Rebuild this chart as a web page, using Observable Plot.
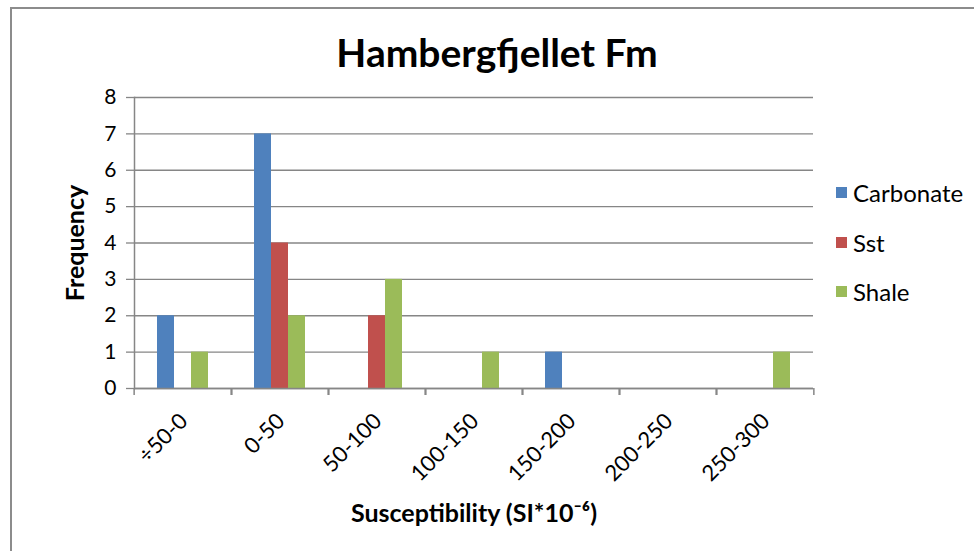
<!DOCTYPE html>
<html><head><meta charset="utf-8">
<script src="https://cdn.jsdelivr.net/npm/d3@7"></script>
<script src="https://cdn.jsdelivr.net/npm/@observablehq/plot@0.6"></script>
<style>
body{margin:0;background:#fff;}
#wrap{position:relative;width:974px;height:551px;overflow:hidden;font-family:Lato,sans-serif;color:#000;}
#border{position:absolute;left:10px;top:7px;width:1000px;height:600px;border-left:2px solid #8c8c8c;border-top:2px solid #8c8c8c;}
#chart{position:absolute;left:0;top:0;}
#title{position:absolute;left:10px;width:974px;top:32px;line-height:40px;text-align:center;font-weight:bold;font-size:39px;}
#legend{position:absolute;left:836px;top:168px;font-size:24px;}
.item{display:flex;align-items:center;height:49.5px;}
.sw{width:11px;height:11px;margin-right:6px;}
</style></head>
<body><div id="wrap"><div id="border"></div><div id="chart"></div><div id="title">Hambergfjellet Fm</div><div id="legend"></div></div>
<script>
const categories = ["÷50-0","0-50","50-100","100-150","150-200","200-250","250-300"];
const series = ["Carbonate","Sst","Shale"];
const carbonate = [2,7,0,0,1,0,0];
const sst = [0,4,2,0,0,0,0];
const shale = [1,2,3,1,0,0,1];
const colors = ["#4F81BD","#C0504D","#9BBB59"];
const yTicks = [0,1,2,3,4,5,6,7,8];
const yLabel = "Frequency";
const xLabel = "Susceptibility (SI*10⁻⁶)";

const values = [carbonate, sst, shale];
const rows = [];
categories.forEach((c,i)=>series.forEach((s,j)=>{ rows.push({cat:c, series:s, value:values[j][i]}); }));

const W = 974, H = 551, mL = 131, mR = 159, mT = 97, mB = 163;
const half = (W - mL - mR) / categories.length / 2;
const grey = "#868686";

const chart = Plot.plot({
  width: W, height: H, marginLeft: mL, marginRight: mR, marginTop: mT, marginBottom: mB,
  style: {fontFamily: "Lato, sans-serif", fontSize: "21px", color: "#000", background: "transparent", overflow: "visible"},
  fx: {domain: categories, padding: 0, label: null, axis: null},
  x: {domain: series, paddingInner: 0, paddingOuter: 1.31, axis: null},
  y: {domain: [0, 8], axis: null},
  color: {domain: series, range: colors},
  marks: [
    Plot.gridY(yTicks, {stroke: grey, strokeOpacity: 1, strokeWidth: 1.3}),
    Plot.barY(rows, {fx: "cat", x: "series", y: "value", fill: "series"}),
    Plot.ruleY([0], {stroke: grey, strokeWidth: 1.5}),
    Plot.frame({anchor: "left", facetAnchor: "left", stroke: grey, strokeWidth: 1.5}),
    Plot.axisY({ticks: yTicks, anchor: "left", tickSize: 8, tickPadding: 10, stroke: grey, strokeWidth: 1.3, label: null, fontSize: 21, fill: "#000"}),
    Plot.axisFx({anchor: "bottom", fill: "none", tickSize: 7, stroke: grey, strokeWidth: 1.5, dx: -half, label: null}),
    Plot.axisFx({anchor: "bottom", fill: "none", tickSize: 7, stroke: grey, strokeWidth: 1.5, dx: half, label: null}),
    Plot.axisFx({anchor: "bottom", tickSize: 0, tickRotate: -45, tickPadding: 29, dx: 1, label: null, fontSize: 22, fill: "#000"}),
    Plot.text([yLabel], {frameAnchor: "left", dx: -59, rotate: -90, textAnchor: "middle", facet: "super", fontWeight: "bold", fontSize: 25}),
    Plot.text([xLabel], {frameAnchor: "bottom", dy: 133, facet: "super", fontWeight: "bold", fontSize: 25})
  ]
});
document.getElementById("chart").appendChild(chart);

const legend = document.getElementById("legend");
series.forEach((s,i)=>{
  const d = document.createElement("div"); d.className = "item";
  const sw = document.createElement("span"); sw.className = "sw"; sw.style.background = colors[i];
  const t = document.createElement("span"); t.textContent = s;
  d.appendChild(sw); d.appendChild(t); legend.appendChild(d);
});
</script></body></html>
